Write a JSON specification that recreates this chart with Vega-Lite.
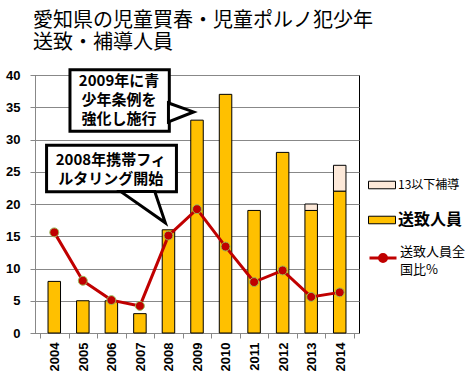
{
  "$schema": "https://vega.github.io/schema/vega-lite/v6.json",
  "autosize": {"type": "none"},
  "width": 324,
  "height": 258,
  "padding": {"left": 35, "top": 75, "right": 108, "bottom": 53},
  "background": "white",
  "config": {
    "view": {"stroke": "#000", "strokeWidth": 1},
    "font": "Noto Sans CJK JP"
  },
  "title": {
    "text": ["愛知県の児童買春・児童ポルノ犯少年", "送致・補導人員"],
    "anchor": "start",
    "frame": "group",
    "font": "Noto Sans CJK JP",
    "fontSize": 20,
    "fontWeight": "normal",
    "lineHeight": 22,
    "color": "#000",
    "offset": 15,
    "dx": -2
  },
  "datasets": {
    "bars": [
      {"year": 2004, "type": "送致人員", "value": 8, "ord": 1},
      {"year": 2005, "type": "送致人員", "value": 5, "ord": 1},
      {"year": 2006, "type": "送致人員", "value": 5, "ord": 1},
      {"year": 2007, "type": "送致人員", "value": 3, "ord": 1},
      {"year": 2008, "type": "送致人員", "value": 16, "ord": 1},
      {"year": 2009, "type": "送致人員", "value": 33, "ord": 1},
      {"year": 2010, "type": "送致人員", "value": 37, "ord": 1},
      {"year": 2011, "type": "送致人員", "value": 19, "ord": 1},
      {"year": 2012, "type": "送致人員", "value": 28, "ord": 1},
      {"year": 2013, "type": "送致人員", "value": 19, "ord": 1},
      {"year": 2014, "type": "送致人員", "value": 22, "ord": 1},
      {"year": 2013, "type": "13以下補導", "value": 1, "ord": 2},
      {"year": 2014, "type": "13以下補導", "value": 4, "ord": 2}
    ],
    "ratio": [
      {"year": 2004, "ratio": 15.6},
      {"year": 2005, "ratio": 8.1},
      {"year": 2006, "ratio": 5.1},
      {"year": 2007, "ratio": 4.2},
      {"year": 2008, "ratio": 15.1},
      {"year": 2009, "ratio": 19.2},
      {"year": 2010, "ratio": 13.4},
      {"year": 2011, "ratio": 7.9},
      {"year": 2012, "ratio": 9.7},
      {"year": 2013, "ratio": 5.6},
      {"year": 2014, "ratio": 6.3}
    ],
    "boxes": [
      {"x": 2004.55, "x2": 2008.03, "y": 40.83, "y2": 31.28},
      {"x": 2003.73, "x2": 2008.28, "y": 29.11, "y2": 21.88}
    ],
    "notes": [
      {"x": 2006.27, "y": 39.0, "text": "2009年に青\n少年条例を\n強化し施行"},
      {"x": 2005.98, "y": 26.87, "text": "2008年携帯フィ\nルタリング開始"}
    ],
    "ptr1": [
      {"x": 2008.0, "y": 32.72, "y2": 35.66},
      {"x": 2008.88, "y": 34.27, "y2": 34.27}
    ],
    "ptr2": [
      {"y": 21.92, "x": 2006.33, "x2": 2007.52},
      {"y": 17.08, "x": 2007.89, "x2": 2007.89}
    ]
  },
  "encoding": {
    "x": {
      "type": "quantitative",
      "scale": {"domain": [2003.5, 2014.5], "nice": false, "zero": false},
      "axis": {
        "title": null,
        "values": [2003.5, 2004.5, 2005.5, 2006.5, 2007.5, 2008.5, 2009.5, 2010.5, 2011.5, 2012.5, 2013.5, 2014.5],
        "labelExpr": "datum.value < 2014 ? format(datum.value + 0.5, 'd') : ''",
        "labelOffset": 14.7,
        "labelAngle": -90,
        "labelAlign": "right",
        "labelBaseline": "middle",
        "labelFont": "Liberation Sans",
        "labelFontSize": 13,
        "labelFontWeight": "bold",
        "labelColor": "#000",
        "labelPadding": 4,
        "labelOverlap": false,
        "labelFlush": false,
        "labelBound": false,
        "tickSize": 5,
        "tickColor": "#888",
        "domainColor": "#888",
        "grid": false
      }
    },
    "y": {
      "type": "quantitative",
      "scale": {"domain": [0, 40], "nice": false},
      "axis": {
        "title": null,
        "values": [0, 5, 10, 15, 20, 25, 30, 35, 40],
        "labelFont": "Liberation Sans",
        "labelFontSize": 13,
        "labelFontWeight": "bold",
        "labelColor": "#000",
        "labelPadding": 10,
        "tickSize": 5,
        "tickColor": "#888",
        "domainColor": "#888",
        "grid": true,
        "gridColor": "#888",
        "gridWidth": 1
      }
    }
  },
  "layer": [
    {
      "data": {"name": "bars"},
      "mark": {"type": "bar", "size": 12.5, "stroke": "#000", "strokeWidth": 1},
      "encoding": {
        "x": {"field": "year", "type": "quantitative"},
        "y": {"field": "value", "type": "quantitative", "stack": "zero"},
        "order": {"field": "ord", "type": "quantitative"},
        "fill": {
          "field": "type",
          "type": "nominal",
          "scale": {"domain": ["13以下補導", "送致人員"], "range": ["#FDE9D9", "#FFC000"]},
          "legend": {
            "orient": "none",
            "legendX": 333,
            "legendY": 96,
            "title": null,
            "padding": 0,
            "symbolType": "M-1,-0.28H1V0.28H-1Z",
            "symbolSize": 729,
            "symbolStrokeColor": "#000",
            "symbolStrokeWidth": 1,
            "symbolOpacity": 1,
            "labelFont": "Noto Sans CJK JP",
            "labelColor": "#000",
            "labelOffset": 2,
            "rowPadding": 15,
            "encode": {
              "labels": {
                "update": {
                  "fontSize": {"signal": "datum.label == '送致人員' ? 16 : 12"},
                  "fontWeight": {"signal": "datum.label == '送致人員' ? 'bold' : 'normal'"}
                }
              }
            }
          }
        }
      }
    },
    {
      "data": {"name": "ratio"},
      "mark": {"type": "line", "strokeWidth": 3},
      "encoding": {
        "x": {"field": "year", "type": "quantitative"},
        "y": {"field": "ratio", "type": "quantitative"},
        "stroke": {
          "datum": "送致人員全国比%",
          "type": "nominal",
          "scale": {"range": ["#C00000"]},
          "legend": {
            "orient": "none",
            "legendX": 333,
            "legendY": 168,
            "title": null,
            "padding": 0,
            "symbolType": "M-1,0H1M-0.26,0A0.26,0.26,0,1,0,0.26,0A0.26,0.26,0,1,0,-0.26,0Z",
            "symbolSize": 729,
            "symbolStrokeWidth": 3,
            "symbolFillColor": "#C00000",
            "labelFont": "Noto Sans CJK JP",
            "labelFontSize": 13,
            "labelColor": "#000",
            "labelOffset": 2,
            "labelExpr": "['送致人員全', '国比%']",
            "encode": {
              "symbols": {"update": {"fill": {"value": "#C00000"}, "stroke": {"value": "#C00000"}}},
              "labels": {"update": {"baseline": {"value": "top"}, "dy": {"value": -12}, "lineHeight": {"value": 18}}}
            }
          }
        }
      }
    },
    {
      "data": {"name": "ratio"},
      "mark": {"type": "point", "filled": true, "size": 80, "fill": "#C00000", "stroke": "#9BBB59", "strokeWidth": 1, "opacity": 1},
      "encoding": {
        "x": {"field": "year", "type": "quantitative"},
        "y": {"field": "ratio", "type": "quantitative"}
      }
    },
    {
      "data": {"name": "boxes"},
      "mark": {"type": "rect", "fill": "white", "stroke": "#000", "strokeWidth": 3, "clip": false},
      "encoding": {
        "x": {"field": "x", "type": "quantitative"},
        "x2": {"field": "x2"},
        "y": {"field": "y", "type": "quantitative"},
        "y2": {"field": "y2"}
      }
    },
    {
      "data": {"name": "ptr1"},
      "mark": {"type": "area", "orient": "vertical", "fill": "white", "stroke": "#000", "strokeWidth": 3, "opacity": 1, "fillOpacity": 1},
      "encoding": {
        "x": {"field": "x", "type": "quantitative"},
        "y": {"field": "y", "type": "quantitative", "stack": null},
        "y2": {"field": "y2"}
      }
    },
    {
      "data": {"name": "ptr2"},
      "mark": {"type": "area", "orient": "horizontal", "fill": "white", "stroke": "#000", "strokeWidth": 3, "opacity": 1, "fillOpacity": 1},
      "encoding": {
        "y": {"field": "y", "type": "quantitative"},
        "x": {"field": "x", "type": "quantitative", "stack": null},
        "x2": {"field": "x2"}
      }
    },
    {
      "data": {"name": "notes"},
      "mark": {"type": "text", "font": "Noto Sans CJK JP", "fontSize": 15, "fontWeight": "bold", "lineBreak": "\n", "lineHeight": 19, "align": "center", "baseline": "middle", "color": "#000"},
      "encoding": {
        "x": {"field": "x", "type": "quantitative"},
        "y": {"field": "y", "type": "quantitative"},
        "text": {"field": "text"}
      }
    }
  ]
}
